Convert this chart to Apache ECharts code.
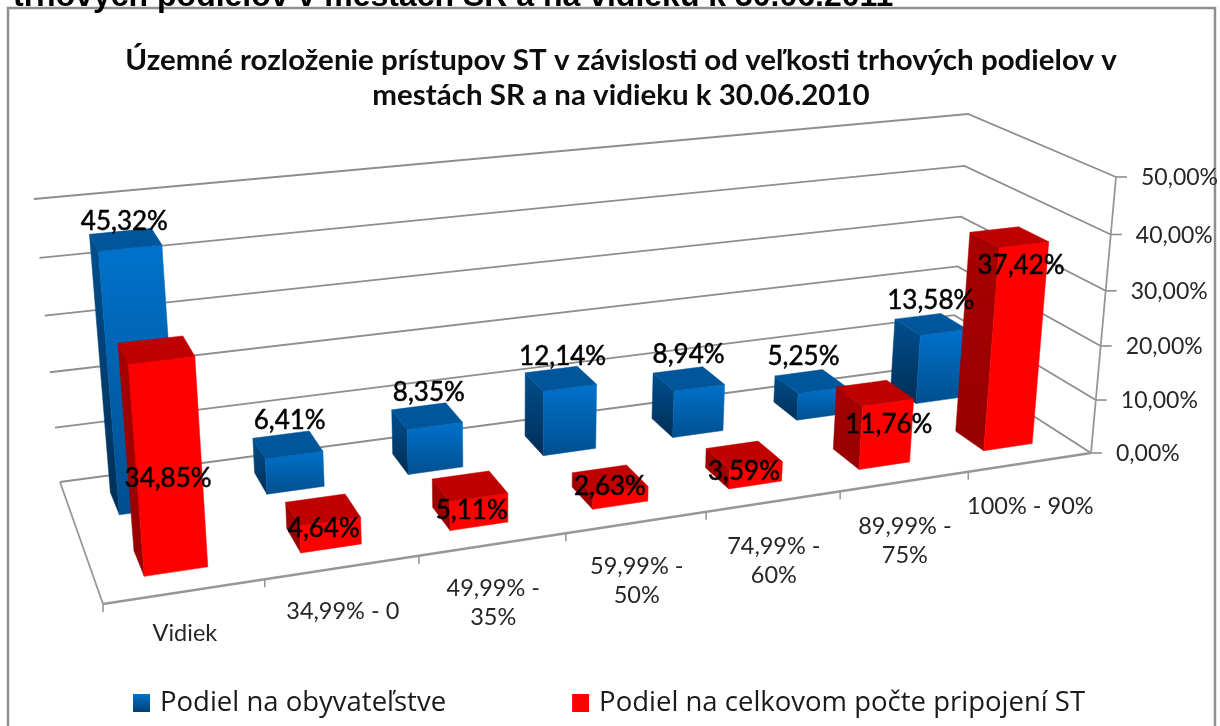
<!DOCTYPE html>
<html>
<head>
<meta charset="utf-8">
<style>
html, body { margin: 0; padding: 0; background: #fff; }
#chart { width: 1220px; height: 726px; }
</style>
<script src="https://cdn.jsdelivr.net/npm/echarts@6/dist/echarts.min.js"></script>
</head>
<body>
<div id="chart"></div>
<script>
const categories = ['Vidiek', '34,99% - 0', '49,99% -\n35%', '59,99% -\n50%', '74,99% -\n60%', '89,99% -\n75%', '100% - 90%'];
const population = [45.32, 6.41, 8.35, 12.14, 8.94, 5.25, 13.58];
const connections = [34.85, 4.64, 5.11, 2.63, 3.59, 11.76, 37.42];
const yTicks = [0, 10, 20, 30, 40, 50];
const yTickLabels = ['0,00%', '10,00%', '20,00%', '30,00%', '40,00%', '50,00%'];
const titleLines = ['Územné rozloženie prístupov ST v závislosti od veľkosti trhových podielov v', 'mestách SR a na vidieku k 30.06.2010'];

// the picture's 3D box, corners on screen
const floorCorners = [[103, 604], [1091, 453], [951, 363], [60, 482]];
const roofCorners = [[76, 287], [1116, 177], [968, 114], [34, 199]];
// where Excel left the labels, relative to the bar top
const blueLabelShift = [[-1, -18], [2, -24], [2, -23], [2, -22], [0, -24], [-7, -25], [0, -24]];
const redLabelShift = [[12, 129], [1, 19], [2, 25], [0, 7], [0, 17], [14, 32], [12, 29]];

const labelFont = 'Lato, Carlito, sans-serif';

function squareToQuad(q) {
    const dx1 = q[1][0] - q[2][0], dx2 = q[3][0] - q[2][0], sx = q[0][0] - q[1][0] + q[2][0] - q[3][0];
    const dy1 = q[1][1] - q[2][1], dy2 = q[3][1] - q[2][1], sy = q[0][1] - q[1][1] + q[2][1] - q[3][1];
    const den = dx1 * dy2 - dx2 * dy1;
    const g = (sx * dy2 - dx2 * sy) / den, h = (dx1 * sy - sx * dy1) / den;
    const a = q[1][0] - q[0][0] + g * q[1][0], b = q[3][0] - q[0][0] + h * q[3][0];
    const d = q[1][1] - q[0][1] + g * q[1][1], e = q[3][1] - q[0][1] + h * q[3][1];
    return (u, v) => {
        const w = g * u + h * v + 1;
        return [(a * u + b * v + q[0][0]) / w, (d * u + e * v + q[0][1]) / w];
    };
}
const floorMap = squareToQuad(floorCorners);
const roofMap = squareToQuad(roofCorners);

// u along categories, v into depth, t height, all 0..1
function project(u, v, t) {
    const k = 0.95 * t / (1 - 0.05 * t);
    const a = floorMap(u, v), b = roofMap(u, v);
    return [a[0] + (b[0] - a[0]) * k, a[1] + (b[1] - a[1]) * k];
}

// read the axis scales, hand back box coordinates
function toBox(params, api) {
    const cs = params.coordSys;
    const p = api.coord([api.value(0), api.value(1)]);
    return {
        u: (p[0] - cs.x) / cs.width,
        t: (cs.y + cs.height - p[1]) / cs.height,
        band: api.size([1, 0])[0] / cs.width
    };
}

function grad(x0, y0, x1, y1, c0, c1) {
    return new echarts.graphic.LinearGradient(x0, y0, x1, y1, [
        { offset: 0, color: c0 }, { offset: 1, color: c1 }
    ]);
}

function barRenderer(v0, v1, colors) {
    return (params, api) => {
        const b = toBox(params, api);
        const half = b.band * 0.2;
        const ul = b.u - half, ur = b.u + half;
        const poly = (pts, fill) => ({
            type: 'polygon',
            shape: { points: pts },
            style: { fill: fill, stroke: fill, lineWidth: 0.5 }
        });
        return {
            type: 'group',
            children: [
                poly([project(ul, v1, b.t), project(ul, v0, b.t), project(ul, v0, 0), project(ul, v1, 0)], grad(0, 0, 0, 1, colors.sideTop, colors.sideBottom)),
                poly([project(ul, v0, b.t), project(ur, v0, b.t), project(ur, v0, 0), project(ul, v0, 0)], grad(0, 0, 0, 1, colors.frontTop, colors.frontBottom)),
                poly([project(ul, v1, b.t), project(ur, v1, b.t), project(ur, v0, b.t), project(ul, v0, b.t)], colors.top)
            ]
        };
    };
}

function wallRenderer(params, api) {
    const t = toBox(params, api).t;
    const a = project(0, 1, t), b = project(1, 1, t), c = project(1, 0, t);
    const children = [{
        type: 'polyline',
        shape: { points: [a, b, c] },
        style: { stroke: '#8e8e8e', lineWidth: 1.8, fill: null }
    }, {
        type: 'line',
        shape: { x1: c[0], y1: c[1], x2: c[0] + 11, y2: c[1] },
        style: { stroke: '#8e8e8e', lineWidth: 1.6 }
    }, {
        type: 'text',
        style: {
            text: yTickLabels[params.dataIndex], x: c[0] + 25, y: c[1] + 1,
            font: '23px ' + labelFont, fill: '#262626', align: 'left', verticalAlign: 'middle'
        }
    }];
    return { type: 'group', children: children };
}

function floorRenderer(params, api) {
    const fl = project(0, 0, 0), bl = project(0, 1, 0), fr = project(1, 0, 0), tr = project(1, 0, 1);
    const stroke = (w) => ({ stroke: '#979797', lineWidth: w, fill: null });
    const children = [
        { type: 'line', shape: { x1: fl[0], y1: fl[1], x2: bl[0], y2: bl[1] }, style: stroke(1.8) },
        { type: 'line', shape: { x1: fl[0], y1: fl[1], x2: fr[0], y2: fr[1] }, style: stroke(2.4) },
        { type: 'line', shape: { x1: fr[0], y1: fr[1], x2: tr[0], y2: tr[1] }, style: stroke(1.8) }
    ];
    categories.forEach((c, i) => {
        const p = project(i / categories.length, 0, 0);
        children.push({ type: 'line', shape: { x1: p[0], y1: p[1], x2: p[0], y2: p[1] + 8 }, style: stroke(1.6) });
    });
    return { type: 'group', children: children };
}

function categoryRenderer(params, api) {
    const b = toBox(params, api);
    const p = project(b.u, 0, 0);
    return {
        type: 'text',
        style: {
            text: categories[params.dataIndex], x: p[0], y: p[1] + (params.dataIndex === 0 ? 27 : 30),
            font: '23.5px ' + labelFont, fill: '#262626', align: 'center', verticalAlign: 'top', lineHeight: 29
        }
    };
}

function labelRenderer(vMid, shifts) {
    return (params, api) => {
        const b = toBox(params, api);
        const p = project(b.u, vMid, b.t);
        const s = shifts[params.dataIndex];
        return {
            type: 'text',
            style: {
                text: api.value(1).toFixed(2).replace('.', ',') + '%', x: p[0] + s[0], y: p[1] + s[1],
                font: '26px ' + labelFont, fill: '#000', align: 'center', verticalAlign: 'middle',
                stroke: '#000', lineWidth: 0.5
            }
        };
    };
}

const blueColors = { top: '#00559b', frontTop: '#0072cc', frontBottom: '#004f8e', sideTop: '#004f8e', sideBottom: '#002e56' };
const redColors = { top: '#c00000', frontTop: '#ff0000', frontBottom: '#ff0000', sideTop: '#a80000', sideBottom: '#960000' };

const pairs = (values) => values.map((v, i) => [i, v]);
const tickRows = yTicks.map(t => [0, t]);

const titleText = (text, y) => ({
    type: 'text', x: 621, y: y, scaleX: 1.054, silent: true,
    style: {
        text: text, x: 0, y: 0, align: 'center', verticalAlign: 'middle',
        font: 'bold 28px ' + labelFont, fill: '#0d0d0d'
    }
});

const option = {
    animation: false,
    backgroundColor: '#fff',
    title: {
        text: 'trhových podielov v mestách SR a na vidieku k 30.06.2011',
        left: 8, top: -24,
        textStyle: { fontFamily: 'Liberation Sans, sans-serif', fontWeight: 'bold', fontSize: 32, color: '#000' }
    },
    legend: {
        left: 128, top: 684,
        itemWidth: 17, itemHeight: 18, itemGap: 126,
        icon: 'rect',
        data: ['Podiel na obyvateľstve', 'Podiel na celkovom počte pripojení ST'],
        textStyle: { fontFamily: '"Open Sans", sans-serif', fontSize: 27.5, color: '#1a1a1a', padding: [0, 0, 0, 5] }
    },
    graphic: [{
        type: 'rect',
        shape: { x: 8, y: 8, width: 1207, height: 760 },
        style: { fill: null, stroke: '#8f8f8f', lineWidth: 2.5 },
        silent: true
    }, titleText(titleLines[0], 61), titleText(titleLines[1], 96)],
    grid: { left: 0, right: 0, top: 0, bottom: 0 },
    xAxis: { type: 'category', data: categories, show: false },
    yAxis: { type: 'value', min: 0, max: 50, interval: 10, show: false },
    series: [
        { type: 'custom', name: 'walls', data: tickRows, renderItem: wallRenderer, silent: true, z: 1 },
        { type: 'custom', name: 'floor', data: [[0, 0]], renderItem: floorRenderer, silent: true, z: 1 },
        { type: 'custom', name: 'categories', data: pairs(categories.map(() => 0)), renderItem: categoryRenderer, silent: true, z: 1 },
        {
            type: 'custom', name: 'Podiel na obyvateľstve', data: pairs(population), z: 2,
            itemStyle: { color: grad(0, 0, 0, 1, '#0072cc', '#003f73') },
            renderItem: barRenderer(0.65, 0.85, blueColors)
        },
        {
            type: 'custom', name: 'Podiel na celkovom počte pripojení ST', data: pairs(connections), z: 3,
            itemStyle: { color: '#ff0000' },
            renderItem: barRenderer(0.15, 0.35, redColors)
        },
        { type: 'custom', name: 'blueLabels', data: pairs(population), z: 4, silent: true, renderItem: labelRenderer(0.75, blueLabelShift) },
        { type: 'custom', name: 'redLabels', data: pairs(connections), z: 4, silent: true, renderItem: labelRenderer(0.25, redLabelShift) }
    ]
};

const chart = echarts.init(document.getElementById('chart'));
chart.setOption(option);
window.addEventListener('resize', () => chart.resize());
</script>
</body>
</html>
